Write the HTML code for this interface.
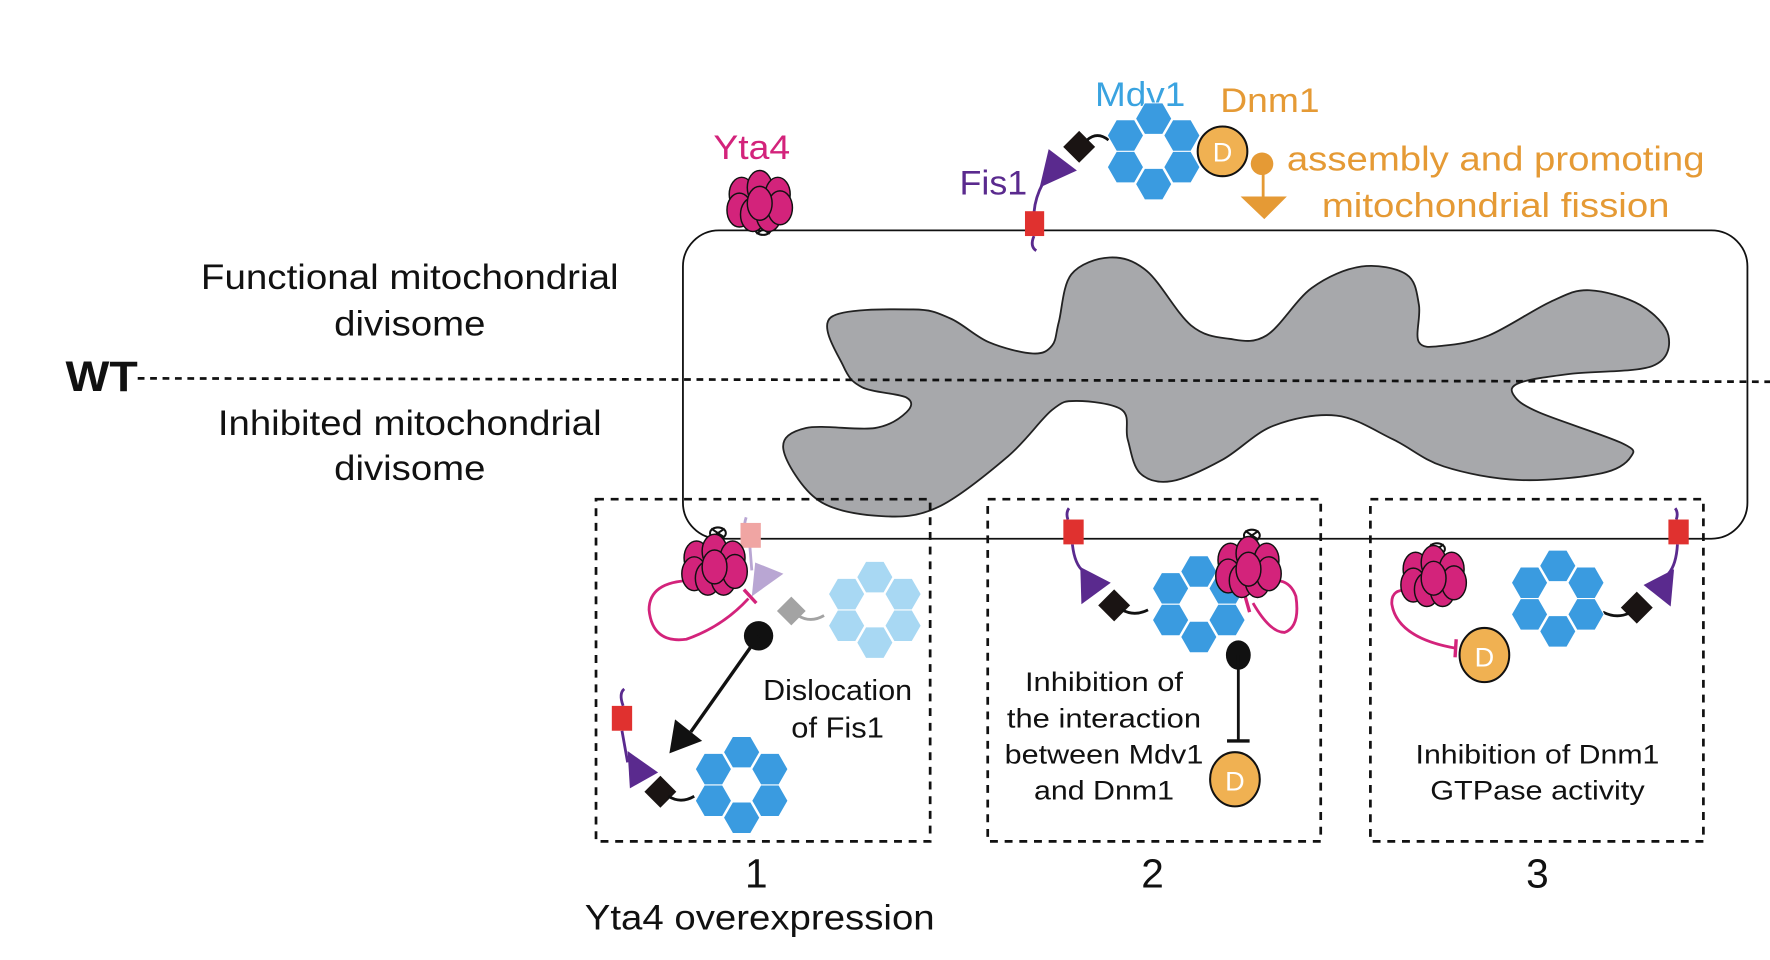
<!DOCTYPE html>
<html><head><meta charset="utf-8">
<style>
html,body{margin:0;padding:0;background:#fff;}
svg{display:block;}
text{font-family:"Liberation Sans",Arial,sans-serif;}
</style></head>
<body>
<svg id="fig" width="1770" height="960" viewBox="0 0 1568 850" preserveAspectRatio="none" xmlns="http://www.w3.org/2000/svg">
  <rect x="0" y="0" width="1568" height="850" fill="#fff"/>
  <path id="blob" fill="#a7a8ab" stroke="#222" stroke-width="1.6"/>
  <rect x="605" y="204" width="943" height="273" rx="32" ry="32" fill="none" stroke="#111" stroke-width="1.6"/>
  <line x1="122" y1="335" x2="1568" y2="338" stroke="#111" stroke-width="2.4" stroke-dasharray="6,5"/>
  <text x="58" y="346" font-size="38" font-weight="bold" fill="#111" textLength="64" lengthAdjust="spacingAndGlyphs">WT</text>
  <g font-size="31" fill="#111" text-anchor="middle">
    <text x="363" y="256" textLength="370" lengthAdjust="spacingAndGlyphs">Functional mitochondrial</text>
    <text x="363" y="297" textLength="134" lengthAdjust="spacingAndGlyphs">divisome</text>
    <text x="363" y="385" textLength="340" lengthAdjust="spacingAndGlyphs">Inhibited mitochondrial</text>
    <text x="363" y="425" textLength="134" lengthAdjust="spacingAndGlyphs">divisome</text>
  </g>
  <g fill="none" stroke="#111" stroke-width="2.4" stroke-dasharray="7,6">
    <rect x="528" y="442" width="296" height="303"/>
    <rect x="875" y="442" width="295" height="303"/>
    <rect x="1214" y="442" width="295" height="303"/>
  </g>
  <g font-size="36" fill="#111" text-anchor="middle">
    <text x="670" y="786">1</text>
    <text x="1021" y="786">2</text>
    <text x="1362" y="786">3</text>
  </g>
  <text x="673" y="823" font-size="31" fill="#111" text-anchor="middle" textLength="310" lengthAdjust="spacingAndGlyphs">Yta4 overexpression</text>

  <text x="632" y="141" font-size="30" fill="#d3237b" textLength="68" lengthAdjust="spacingAndGlyphs">Yta4</text>
  <text x="850" y="172" font-size="30" fill="#5a2a8e" textLength="60" lengthAdjust="spacingAndGlyphs">Fis1</text>
  <text x="970" y="94" font-size="30" fill="#3aa3e0" textLength="80" lengthAdjust="spacingAndGlyphs">Mdv1</text>
  <text x="1081" y="99" font-size="30" fill="#e59a35" textLength="88" lengthAdjust="spacingAndGlyphs">Dnm1</text>
  <text x="1140" y="151" font-size="30" fill="#e59a35" textLength="370" lengthAdjust="spacingAndGlyphs">assembly and promoting</text>
  <text x="1325" y="192" font-size="30" fill="#e59a35" text-anchor="middle" textLength="308" lengthAdjust="spacingAndGlyphs">mitochondrial fission</text>

  <path d="M916,209 Q912,218 918,222" stroke="#5a2a8e" stroke-width="2.5" fill="none"/>
  <path d="M916,188 Q917,175 924,162" stroke="#5a2a8e" stroke-width="2.5" fill="none"/>
  <rect x="908" y="187" width="17" height="22" fill="#e0312f"/>
  <polygon points="921,166 929,132 954,151" fill="#5a2a8e"/>
  <rect x="946" y="120" width="20" height="20" fill="#1a1413" transform="rotate(45 956 130)"/>
  <path d="M963,124 Q972,116 982,124" stroke="#111" stroke-width="2.5" fill="none"/>
  <g id="top-ring"></g>
  <circle cx="1083" cy="134" r="22" fill="#f0b152" stroke="#111" stroke-width="1.8"/>
  <text x="1083" y="143" font-size="24" fill="#fff" text-anchor="middle">D</text>
  <circle cx="1118" cy="145" r="10" fill="#e59a35"/>
  <line x1="1119" y1="150" x2="1119" y2="176" stroke="#e59a35" stroke-width="2.5"/>
  <polygon points="1099,174 1140,174 1120,194" fill="#e59a35"/>
  <g id="yta4-top"></g>

  <path d="M661,458 Q657,470 664,480 L666,505" stroke="#b9a6d3" stroke-width="2.5" fill="none"/>
  <rect x="656" y="463" width="18" height="22" fill="#f0a5a3"/>
  <polygon points="666,528 669,498 694,508" fill="#b9a6d3"/>
  <rect x="692" y="532" width="18" height="18" fill="#a3a3a3" transform="rotate(45 701 541)"/>
  <path d="M707,545 Q718,552 730,545" stroke="#a3a3a3" stroke-width="2.5" fill="none"/>
  <g id="ring-faded"></g>
  <path d="M612,514 Q575,515 575,540 Q578,570 608,566 Q640,555 663,530" stroke="#d3237b" stroke-width="2.5" fill="none"/>
  <line x1="659" y1="522" x2="670" y2="534" stroke="#d3237b" stroke-width="3"/>
  <g id="yta4-b1"></g>
  <circle cx="672" cy="563" r="13" fill="#111"/>
  <line x1="672" y1="563" x2="612" y2="648" stroke="#111" stroke-width="3"/>
  <polygon points="593,667 598,637 622,656" fill="#111"/>
  <path d="M552,625 Q548,614 553,610 M551,647 L556,675" stroke="#5a2a8e" stroke-width="2.5" fill="none"/>
  <rect x="542" y="625" width="18" height="22" fill="#e0312f"/>
  <polygon points="558,698 556,665 583,684" fill="#5a2a8e"/>
  <rect x="575" y="691" width="20" height="20" fill="#1a1413" transform="rotate(45 585 701)"/>
  <path d="M592,705 Q603,712 615,705" stroke="#111" stroke-width="2.5" fill="none"/>
  <g id="ring-b1"></g>
  <text x="742" y="620" font-size="25" fill="#111" text-anchor="middle" textLength="132" lengthAdjust="spacingAndGlyphs">Dislocation</text>
  <text x="742" y="653" font-size="25" fill="#111" text-anchor="middle" textLength="82" lengthAdjust="spacingAndGlyphs">of Fis1</text>

  <path d="M946,460 Q944,454 947,450 M950,482 Q952,500 960,506" stroke="#5a2a8e" stroke-width="2.5" fill="none"/>
  <rect x="942" y="460" width="18" height="22" fill="#e0312f"/>
  <polygon points="958,535 957,502 984,516" fill="#5a2a8e"/>
  <rect x="977" y="526" width="20" height="20" fill="#1a1413" transform="rotate(45 987 536)"/>
  <path d="M994,540 Q1005,546 1017,540" stroke="#111" stroke-width="2.5" fill="none"/>
  <g id="ring-b2"></g>
  <path d="M1110,520 Q1140,505 1148,528 Q1152,555 1138,560 Q1125,560 1110,534" stroke="#d3237b" stroke-width="2.5" fill="none"/>
  <line x1="1103" y1="528" x2="1107" y2="542" stroke="#d3237b" stroke-width="3"/>
  <g id="yta4-b2"></g>
  <ellipse cx="1097" cy="580" rx="11" ry="13" fill="#111"/>
  <line x1="1097" y1="580" x2="1097" y2="656" stroke="#111" stroke-width="2.5"/>
  <line x1="1087" y1="656" x2="1107" y2="656" stroke="#111" stroke-width="3"/>
  <ellipse cx="1094" cy="690" rx="22" ry="24" fill="#f0b152" stroke="#111" stroke-width="1.8"/>
  <text x="1094" y="700" font-size="24" fill="#fff" text-anchor="middle">D</text>
  <g font-size="24" fill="#111" text-anchor="middle">
    <text x="978" y="612" textLength="140" lengthAdjust="spacingAndGlyphs">Inhibition of</text>
    <text x="978" y="644" textLength="172" lengthAdjust="spacingAndGlyphs">the interaction</text>
    <text x="978" y="676" textLength="176" lengthAdjust="spacingAndGlyphs">between Mdv1</text>
    <text x="978" y="708" textLength="124" lengthAdjust="spacingAndGlyphs">and Dnm1</text>
  </g>

  <path d="M1485,460 Q1487,454 1484,450 M1486,482 Q1485,500 1478,508" stroke="#5a2a8e" stroke-width="2.5" fill="none"/>
  <rect x="1478" y="460" width="18" height="22" fill="#e0312f"/>
  <polygon points="1480,537 1483,504 1456,518" fill="#5a2a8e"/>
  <rect x="1440" y="528" width="20" height="20" fill="#1a1413" transform="rotate(45 1450 538)"/>
  <path d="M1443,543 Q1432,548 1420,542" stroke="#111" stroke-width="2.5" fill="none"/>
  <g id="ring-b3"></g>
  <path d="M1250,523 Q1232,520 1233,535 Q1238,565 1290,574" stroke="#d3237b" stroke-width="2.5" fill="none"/>
  <line x1="1290" y1="566" x2="1289" y2="582" stroke="#d3237b" stroke-width="3"/>
  <g id="yta4-b3"></g>
  <ellipse cx="1315" cy="580" rx="22" ry="24" fill="#f0b152" stroke="#111" stroke-width="1.8"/>
  <text x="1315" y="590" font-size="24" fill="#fff" text-anchor="middle">D</text>
  <text x="1362" y="676" font-size="24" fill="#111" text-anchor="middle" textLength="216" lengthAdjust="spacingAndGlyphs">Inhibition of Dnm1</text>
  <text x="1362" y="708" font-size="24" fill="#111" text-anchor="middle" textLength="190" lengthAdjust="spacingAndGlyphs">GTPase activity</text>
</svg>
<script>
var NS = "http://www.w3.org/2000/svg";
var blobPts = [[736,281],[809,274],[842,282],[876,303],[915,313],[932,306],[938,285],[949,243],[983,228],[1016,240],[1055,288],[1089,300],[1122,297],[1162,255],[1206,236],[1246,243],[1257,270],[1257,303],[1279,306],[1319,297],[1374,267],[1408,257],[1453,270],[1478,297],[1464,324],[1391,331],[1346,339],[1341,350],[1363,365],[1436,392],[1445,404],[1419,419],[1346,425],[1279,413],[1234,389],[1184,368],[1128,377],[1083,407],[1038,426],[1010,419],[999,389],[994,363],[954,355],[932,363],[893,404],[831,449],[781,457],[725,443],[694,398],[714,379],[775,379],[803,365],[803,352],[764,343],[747,324]];
(function(){
  var p = blobPts, n = p.length, d = "M" + p[0][0] + "," + p[0][1];
  for (var i = 0; i < n; i++) {
    var p0 = p[(i-1+n)%n], p1 = p[i], p2 = p[(i+1)%n], p3 = p[(i+2)%n];
    var c1x = p1[0] + (p2[0]-p0[0])/6, c1y = p1[1] + (p2[1]-p0[1])/6;
    var c2x = p2[0] - (p3[0]-p1[0])/6, c2y = p2[1] - (p3[1]-p1[1])/6;
    d += " C" + c1x.toFixed(1) + "," + c1y.toFixed(1) + " " + c2x.toFixed(1) + "," + c2y.toFixed(1) + " " + p2[0] + "," + p2[1];
  }
  document.getElementById("blob").setAttribute("d", d + "Z");
})();
function hexRing(id, cx, cy, color) {
  var g = document.getElementById(id);
  var offs = [[0,-29],[-25,-14],[25,-14],[-25,14],[25,14],[0,29]];
  for (var i = 0; i < offs.length; i++) {
    var hx = cx + offs[i][0], hy = cy + offs[i][1], r = 16, pts = [];
    for (var k = 0; k < 6; k++) {
      var a = Math.PI/3*k;
      pts.push((hx + r*Math.cos(a)).toFixed(1) + "," + (hy + r*Math.sin(a)).toFixed(1));
    }
    var h = document.createElementNS(NS, "polygon");
    h.setAttribute("points", pts.join(" "));
    h.setAttribute("fill", color);
    h.setAttribute("stroke", "#fff");
    h.setAttribute("stroke-width", "0.8");
    
    
    g.appendChild(h);
  }
}
hexRing("top-ring", 1022, 134, "#3a9be0");
hexRing("ring-faded", 775, 540, "#a8d8f3");
hexRing("ring-b1", 657, 695, "#3a9be0");
hexRing("ring-b2", 1062, 535, "#3a9be0");
hexRing("ring-b3", 1380, 530, "#3a9be0");
function yta4(id, cx, cy, knotY) {
  var g = document.getElementById(id);
  var k = document.createElementNS(NS, "path");
  k.setAttribute("d", "M" + (cx+2) + "," + (cy+18) + " L" + (cx+3) + "," + knotY + " M" + (cx-3) + "," + (knotY-4) + " l12,8 M" + (cx+9) + "," + (knotY-4) + " l-12,8 M" + (cx-4) + "," + knotY + " a7,5 0 1,0 14,0 a7,5 0 1,0 -14,0");
  k.setAttribute("stroke", "#111");
  k.setAttribute("stroke-width", "1.8");
  k.setAttribute("fill", "none");
  
  
  g.appendChild(k);
  var offs = [[-16,-6],[0,-12],[16,-6],[-18,8],[-6,12],[8,12],[18,6],[0,2]];
  for (var i = 0; i < offs.length; i++) {
    var e = document.createElementNS(NS, "ellipse");
    e.setAttribute("cx", cx + offs[i][0]);
    e.setAttribute("cy", cy + offs[i][1]);
    e.setAttribute("rx", 11);
    e.setAttribute("ry", 15);
    e.setAttribute("fill", "#d3237b");
    e.setAttribute("stroke", "#111");
    e.setAttribute("stroke-width", "1.3");
    
    
    g.appendChild(e);
  }
}
yta4("yta4-top", 673, 178, 203);
yta4("yta4-b1", 633, 500, 472);
yta4("yta4-b2", 1106, 502, 474);
yta4("yta4-b3", 1270, 510, 486);
</script>
</body></html>
